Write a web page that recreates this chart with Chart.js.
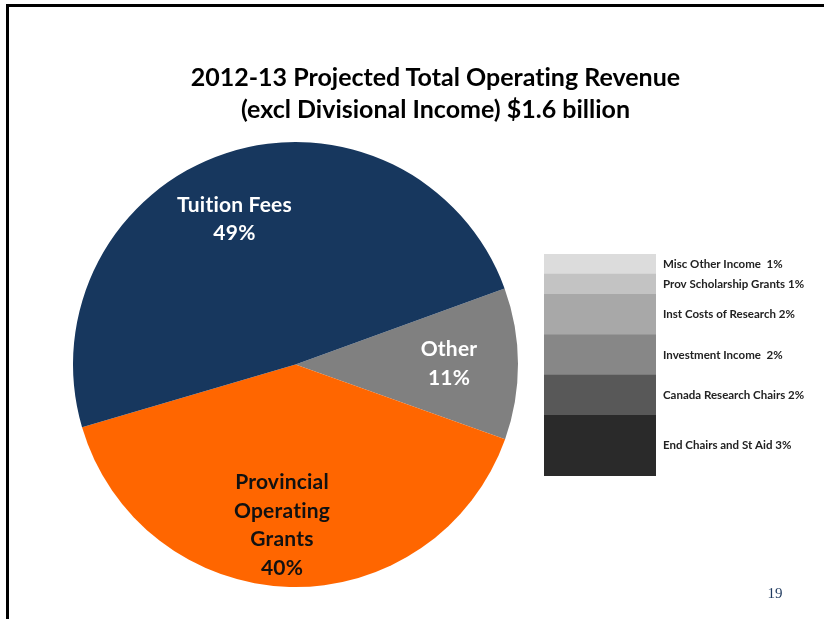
<!DOCTYPE html>
<html>
<head>
<meta charset="utf-8">
<title>2012-13 Projected Total Operating Revenue</title>
<script src="https://cdn.jsdelivr.net/npm/chart.js@4/dist/chart.umd.min.js"></script>
<style>
  html, body { margin: 0; padding: 0; background: #ffffff; }
  body { width: 824px; height: 619px; position: relative; overflow: hidden; }
  .frame { position: absolute; left: 6px; top: 4px; right: -10px; bottom: -10px;
           border-left: 3px solid #000; border-top: 3px solid #000; }
  canvas { position: absolute; left: 0; top: 0; }
  .title { position: absolute; left: 0; top: 60px; width: 871px; text-align: center;
           font: bold 25px Lato, "Open Sans", sans-serif; line-height: 32px; color: #000;
           font-variant-ligatures: none; }
  .page { position: absolute; left: 760px; top: 585px; width: 30px; text-align: center;
          font: 15px "Liberation Serif", "DejaVu Serif", serif; color: #1f3a5f; }
</style>
</head>
<body>
<div class="frame"></div>
<canvas id="pie" width="824" height="619"></canvas>
<canvas id="bar" width="824" height="619"></canvas>
<div class="title">2012-13 Projected Total Operating Revenue<br>(excl Divisional Income) $1.6 billion</div>
<div class="page">19</div>
<script>
// Revenue shares (percent of total)
const categories = ['Other', 'Provincial Operating Grants', 'Tuition Fees'];
const shares = [11, 40, 49];
const sliceLabelLines = [['Other'], ['Provincial', 'Operating', 'Grants'], ['Tuition Fees']];

// Breakdown of the "Other" slice, bottom to top
const otherItems = ['End Chairs and St Aid', 'Canada Research Chairs', 'Investment Income',
                    'Inst Costs of Research', 'Prov Scholarship Grants', 'Misc Other Income'];
const otherShares = [3, 2, 2, 2, 1, 1];

// Styling
const sliceColors = ['#808080', '#ff6600', '#17375e'];
const sliceTextColors = ['#ffffff', '#111111', '#ffffff'];
const sliceLabelPlace = [ { frac: 0.69, turn: 0 }, { frac: 0.725, turn: 3.2 }, { frac: 0.708, turn: -4.6 } ];
const stackColors = ['#2a2a2a', '#585858', '#878787', '#a8a8a8', '#c3c3c3', '#dcdcdc'];
const stackGaps = [' ', ' ', '  ', ' ', ' ', '  '];

const labelFont = 'bold 21px Lato, "Open Sans", sans-serif';

const sliceLabels = {
  id: 'sliceLabels',
  afterDatasetsDraw(chart) {
    const ctx = chart.ctx;
    const meta = chart.getDatasetMeta(0);
    ctx.save();
    ctx.font = labelFont;
    ctx.letterSpacing = '0.2px';
    ctx.textAlign = 'center';
    ctx.textBaseline = 'middle';
    meta.data.forEach((arc, i) => {
      const p = arc.getProps(['x', 'y', 'startAngle', 'endAngle', 'outerRadius'], true);
      const ang = (p.startAngle + p.endAngle) / 2 + sliceLabelPlace[i].turn * Math.PI / 180;
      const r = p.outerRadius * sliceLabelPlace[i].frac;
      const cx = p.x + Math.cos(ang) * r;
      const cy = p.y + Math.sin(ang) * r;
      const lines = sliceLabelLines[i].concat([chart.data.datasets[0].data[i] + '%']);
      const lh = 28.5;
      const y0 = cy - (lines.length - 1) * lh / 2;
      ctx.fillStyle = sliceTextColors[i];
      lines.forEach((t, k) => ctx.fillText(t, cx, y0 + k * lh));
    });
    ctx.restore();
  }
};

new Chart(document.getElementById('pie'), {
  type: 'pie',
  data: {
    labels: categories,
    datasets: [{ data: shares, backgroundColor: sliceColors, borderWidth: 0 }]
  },
  options: {
    responsive: false,
    animation: false,
    rotation: 70,
    layout: { padding: { left: 73, right: 306, top: 142, bottom: 32 } },
    plugins: { legend: { display: false }, tooltip: { enabled: false }, title: { display: false } }
  },
  plugins: [sliceLabels]
});

const stackLabels = {
  id: 'stackLabels',
  afterDatasetsDraw(chart) {
    const ctx = chart.ctx;
    ctx.save();
    ctx.font = 'bold 11.5px Lato, "Open Sans", sans-serif';
    ctx.fillStyle = '#222222';
    ctx.textAlign = 'left';
    ctx.textBaseline = 'middle';
    chart.data.datasets.forEach((ds, i) => {
      const bar = chart.getDatasetMeta(i).data[0];
      const p = bar.getProps(['y', 'base'], true);
      const yMid = (p.y + p.base) / 2;
      ctx.fillText(ds.label + stackGaps[i] + ds.data[0] + '%', chart.chartArea.right + 7, yMid);
    });
    ctx.restore();
  }
};

new Chart(document.getElementById('bar'), {
  type: 'bar',
  data: {
    labels: ['Other'],
    datasets: otherItems.map((name, i) => ({
      label: name,
      data: [otherShares[i]],
      backgroundColor: stackColors[i],
      borderWidth: 0,
      barPercentage: 1,
      categoryPercentage: 1
    }))
  },
  options: {
    responsive: false,
    animation: false,
    layout: { padding: { left: 544, right: 168, top: 254, bottom: 143 } },
    scales: {
      x: { stacked: true, display: false },
      y: { stacked: true, display: false, min: 0, max: otherShares.reduce((a, b) => a + b, 0) }
    },
    plugins: { legend: { display: false }, tooltip: { enabled: false }, title: { display: false } }
  },
  plugins: [stackLabels]
});
</script>
</body>
</html>
